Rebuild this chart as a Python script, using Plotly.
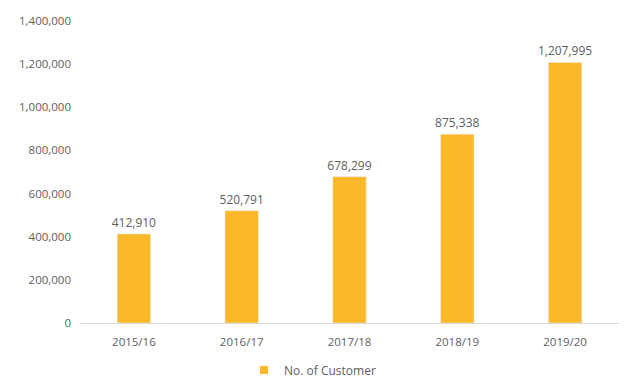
import plotly.graph_objects as go

years = ["2015/16", "2016/17", "2017/18", "2018/19", "2019/20"]
customers = [412910, 520791, 678299, 875338, 1207995]
y_ticks = [0, 200000, 400000, 600000, 800000, 1000000, 1200000, 1400000]
series_name = "No. of Customer"

bar_color = "#FBB829"
text_color = "#5e5e5e"

fig = go.Figure()
fig.add_trace(go.Bar(
    x=years,
    y=customers,
    name=series_name,
    marker_color=bar_color,
    width=0.31,
    text=[f"{v:,}" for v in customers],
    textposition="outside",
    textfont=dict(size=12, color=text_color),
    constraintext="none",
    cliponaxis=False,
    showlegend=False,
))

# legend entry with a small square swatch
fig.add_trace(go.Scatter(
    x=[None], y=[None],
    mode="markers",
    name=series_name,
    marker=dict(symbol="square", size=8, color=bar_color),
    showlegend=True,
))

fig.update_layout(
    width=625,
    height=390,
    margin=dict(l=80, r=6, t=21, b=67),
    paper_bgcolor="white",
    plot_bgcolor="white",
    font=dict(family="Open Sans, sans-serif", size=11, color=text_color),
    legend=dict(
        orientation="h",
        xref="container",
        x=0.5, xanchor="center",
        yref="container",
        y=20 / 390, yanchor="middle",
        itemwidth=30,
        font=dict(size=12, color=text_color),
    ),
    xaxis=dict(
        showgrid=False,
        showline=True,
        linecolor="#d9d9d9",
        linewidth=1,
        ticks="",
        ticklabelstandoff=8,
        tickfont=dict(size=11.5, color=text_color),
    ),
    yaxis=dict(
        range=[0, 1400000],
        tickvals=y_ticks,
        ticktext=[f"{v:,}" for v in y_ticks],
        showgrid=False,
        zeroline=False,
        showline=False,
        ticks="",
        ticklabelstandoff=8,
        tickfont=dict(size=11.5, color=text_color),
    ),
)

fig.write_html("out.html")
